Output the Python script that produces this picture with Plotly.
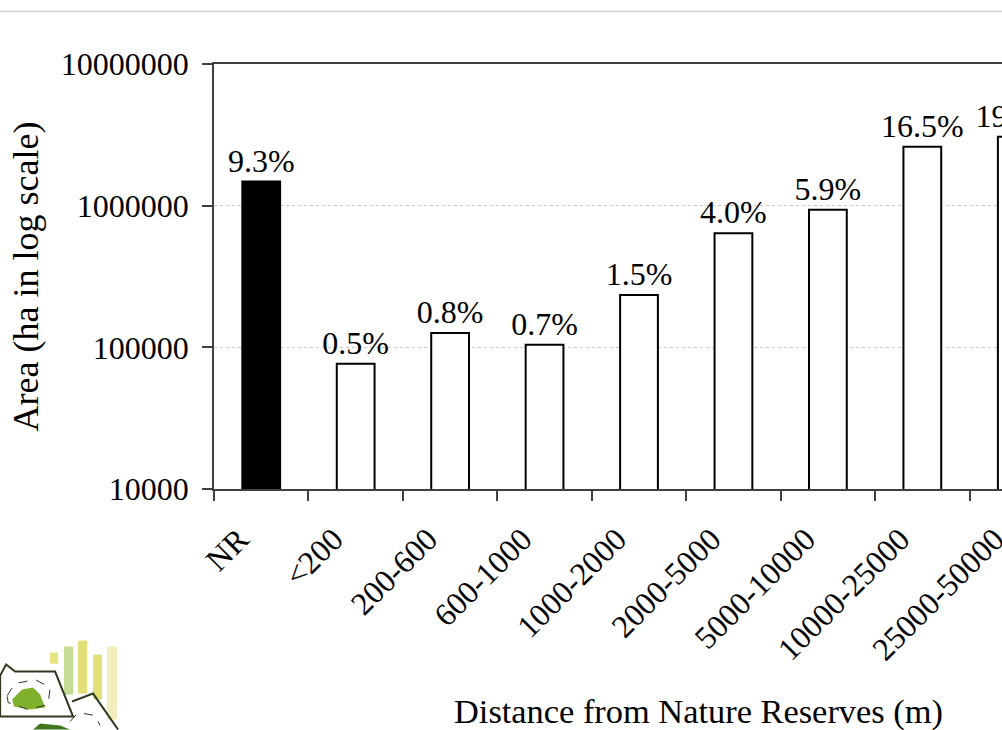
import plotly.graph_objects as go

# ---- data ----
categories = ["NR", "<200", "200-600", "600-1000", "1000-2000", "2000-5000",
              "5000-10000", "10000-25000", "25000-50000"]
area_ha = [1479000, 76600, 126200, 104300, 233900, 639900, 933900, 2610000, 3070000]
share_labels = ["9.3%", "0.5%", "0.8%", "0.7%", "1.5%", "4.0%", "5.9%", "16.5%", "19.3%"]
ytick_vals = [10000, 100000, 1000000, 10000000]
ytick_text = ["10000", "100000", "1000000", "10000000"]

FONT = "Liberation Serif, Times New Roman, serif"

# layout geometry (pixels)
W, H = 1100, 730
L, T = 214, 64
PLOT_W = 850.5
PLOT_H = 425.3
B = H - T - PLOT_H
R = W - L - PLOT_W

def px(x):
    return (x - L) / PLOT_W

def py(y):
    return (T + PLOT_H - y) / PLOT_H

fill_colors = ["black"] + ["white"] * (len(categories) - 1)

fig = go.Figure()
fig.add_trace(go.Bar(
    x=categories, y=area_ha,
    text=share_labels, textposition="outside", cliponaxis=False,
    constraintext="none",
    textfont=dict(family=FONT, size=32, color="black"),
    marker=dict(color=fill_colors, line=dict(color="black", width=2)),
    width=0.4, showlegend=False,
))

shapes = []
# thin grey rule at the very top of the page
shapes.append(dict(type="line", xref="paper", yref="paper",
                   x0=px(0), x1=px(W), y0=py(11.5), y1=py(11.5),
                   line=dict(color="#d0d0d0", width=1.5)))

# decorative logo (bottom-left)
logo_bars = [((50, 58), (653, 664), "#e6e27a"),
             ((64, 73), (647, 695), "#c5da92"),
             ((78, 87), (641, 694), "#e2df76"),
             ((93, 102), (655, 700), "#e3e07c"),
             ((107, 117), (647, 720), "#f0eebc")]
for (xa, xb), (ya, yb), c in logo_bars:
    shapes.append(dict(type="rect", xref="paper", yref="paper",
                       x0=px(xa), x1=px(xb), y0=py(yb), y1=py(ya),
                       fillcolor=c, line=dict(width=0), layer="above"))

def path(points):
    d = "M " + " L ".join(f"{px(x):.5f},{py(y):.5f}" for x, y in points)
    return d

# white map panel with dark outline
shapes.append(dict(type="path", xref="paper", yref="paper",
                   path=path([(0, 676), (6, 665), (15, 672), (55, 672), (73, 717), (0, 717)]) + " Z",
                   fillcolor="white", line=dict(color="#2e3b1e", width=2), layer="above"))
shapes.append(dict(type="path", xref="paper", yref="paper",
                   path=path([(72, 702), (93, 694), (118, 730)]),
                   line=dict(color="#2e3b1e", width=2), layer="above"))
# green blob
shapes.append(dict(type="path", xref="paper", yref="paper",
                   path=path([(12, 700), (22, 690), (33, 688), (40, 695), (45, 708), (30, 710), (14, 707)]) + " Z",
                   fillcolor="#7fb02c", line=dict(width=0), layer="above"))
shapes.append(dict(type="path", xref="paper", yref="paper",
                   path=path([(7, 696), (15, 684), (35, 680), (50, 688), (48, 705), (28, 710), (8, 703)]) + " Z",
                   fillcolor="rgba(0,0,0,0)", line=dict(color="#2e3b1e", width=1, dash="dash"), layer="above"))
shapes.append(dict(type="path", xref="paper", yref="paper",
                   path=path([(70, 722), (78, 713), (95, 716), (100, 726)]),
                   line=dict(color="#2e3b1e", width=1, dash="dash"), layer="above"))
shapes.append(dict(type="path", xref="paper", yref="paper",
                   path=path([(33, 730), (40, 724), (60, 726), (70, 730)]) + " Z",
                   fillcolor="#3f7a1a", line=dict(width=0), layer="above"))

fig.update_layout(
    width=W, height=H,
    margin=dict(l=L, r=R, t=T, b=B, pad=0),
    paper_bgcolor="white", plot_bgcolor="white",
    font=dict(family=FONT, size=32, color="black"),
    shapes=shapes,
    annotations=[dict(text="Distance from Nature Reserves (m)", xref="paper", yref="paper",
                      x=px(698.5), y=py(712), xanchor="center", yanchor="middle",
                      showarrow=False, font=dict(family=FONT, size=34.4, color="black"))],
)

fig.update_xaxes(
    type="category", range=[-0.5, len(categories) - 0.5],
    tickangle=-45, tickfont=dict(family=FONT, size=32, color="black"),
    tickson="boundaries", ticks="outside", ticklen=10, tickcolor="#404040", tickwidth=1.5,
    showline=True, linecolor="#404040", linewidth=1.5, mirror=True,
    showgrid=False, zeroline=False, ticklabelstandoff=17, ticklabelshift=-22,
)
fig.update_yaxes(
    type="log", range=[4, 7],
    tickvals=ytick_vals, ticktext=ytick_text,
    tickfont=dict(family=FONT, size=32, color="black"),
    ticks="outside", ticklen=10, tickcolor="#404040", tickwidth=1.5,
    showline=True, linecolor="#404040", linewidth=1.5,
    showgrid=True, gridcolor="#c8c8c8", griddash="dot", gridwidth=1,
    zeroline=False, ticklabelstandoff=7,
    title=dict(text="Area (ha in log scale)", font=dict(family=FONT, size=36, color="black"), standoff=11),
)

fig.write_html("out.html", config={"displayModeBar": False},
               post_script="document.body.style.margin='0';document.body.style.overflow='hidden';")
